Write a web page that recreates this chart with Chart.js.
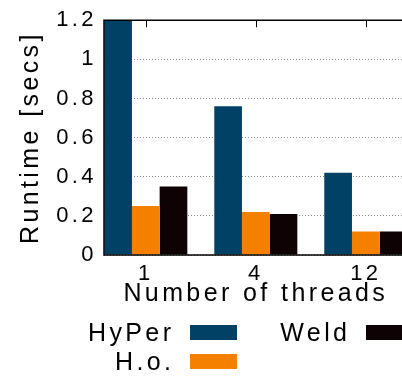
<!DOCTYPE html>
<html><head><meta charset="utf-8">
<script src="https://cdn.jsdelivr.net/npm/chart.js@4/dist/chart.umd.min.js"></script>
<style>
html,body{margin:0;padding:0;background:#fff;overflow:hidden}
#wrap{width:402px;height:377px;overflow:hidden;position:relative;background:#fff}
canvas{display:block}
</style></head><body>
<div id="wrap"><canvas id="c" width="412" height="377"></canvas></div>
<script>
const categories = ['1', '4', '12'];
const seriesNames = ['HyPer', 'H.o.', 'Weld'];
const hyperValues = [1.2, 0.76, 0.42];
const hoValues = [0.25, 0.22, 0.12];
const weldValues = [0.35, 0.21, 0.12];
const yTickValues = [0, 0.2, 0.4, 0.6, 0.8, 1, 1.2];
const yTickLabels = ['0', '0.2', '0.4', '0.6', '0.8', '1', '1.2'];
const xTitle = 'Number of threads';
const yTitle = 'Runtime [secs]';
const colors = ['#004165', '#f58000', '#0e0204'];

const FONT = "'Liberation Sans', Arial, Helvetica, sans-serif";
const SPACING = '3.4px';
const valueSets = [hyperValues, hoValues, weldValues];
function toPoints(vals) { return vals.map((v, i) => ({ x: i, y: v })); }

const spacingPlugin = {
  id: 'spacing',
  beforeUpdate(chart) { chart.ctx.letterSpacing = SPACING; },
  beforeLayout(chart) { chart.ctx.letterSpacing = SPACING; },
  beforeDraw(chart) { chart.ctx.letterSpacing = SPACING; }
};

const framePlugin = {
  id: 'frame',
  afterDatasetsDraw(chart) {
    const { ctx, chartArea: a, scales: { x } } = chart;
    ctx.save();
    ctx.strokeStyle = '#000';
    ctx.lineWidth = 1.5;
    ctx.beginPath();
    ctx.moveTo(a.right + 10, a.top);
    ctx.lineTo(a.left, a.top);
    ctx.lineTo(a.left, a.bottom);
    ctx.lineTo(a.right + 10, a.bottom);
    ctx.stroke();
    ctx.lineWidth = 1;
    x.ticks.forEach(t => {
      const px = Math.round(x.getPixelForValue(t.value)) + 0.5;
      ctx.beginPath();
      ctx.moveTo(px, a.top);
      ctx.lineTo(px, a.top + 7);
      ctx.stroke();
    });
    ctx.restore();
  }
};

const legendPlugin = {
  id: 'keybox',
  afterDraw(chart) {
    const ctx = chart.ctx;
    ctx.save();
    ctx.letterSpacing = SPACING;
    ctx.font = '25px ' + FONT;
    ctx.textAlign = 'right';
    ctx.textBaseline = 'middle';
    chart.data.datasets.forEach((ds, i) => {
      const col = Math.floor(i / 2), row = i % 2;
      const sx = 190 + 176 * col, sy = 325 + 29 * row;
      ctx.fillStyle = ds.backgroundColor;
      ctx.fillRect(sx, sy, 47, 15);
      ctx.fillStyle = '#000';
      ctx.fillText(ds.label, sx - 19 + 3.4, sy + 9);
    });
    ctx.restore();
  }
};

new Chart(document.getElementById('c'), {
  type: 'bar',
  data: {
    datasets: seriesNames.map((n, i) => ({
      label: n,
      data: toPoints(valueSets[i]),
      backgroundColor: colors[i],
      borderWidth: 0
    }))
  },
  options: {
    responsive: false,
    animation: false,
    devicePixelRatio: 1,
    categoryPercentage: 0.755,
    barPercentage: 1,
    layout: { padding: { top: 16, right: 4.4, bottom: 67, left: 0 } },
    plugins: { legend: { display: false }, tooltip: { enabled: false } },
    scales: {
      x: {
        type: 'linear', min: -0.38, max: 2.38, offset: false,
        afterBuildTicks(s) { s.ticks = categories.map((_, i) => ({ value: i })); },
        afterFit(s) { s.height = 55; },
        grid: { display: false, drawTicks: false, offset: false },
        border: { display: false },
        ticks: {
          font: { family: FONT, size: 22 }, color: '#000', padding: 6,
          maxRotation: 0, autoSkip: false,
          callback: (v, i) => categories[i]
        },
        title: {
          display: true, text: xTitle, color: '#000',
          font: { family: FONT, size: 25, lineHeight: 1 },
          padding: { top: 0, bottom: 3 }
        }
      },
      y: {
        min: 0, max: 1.2,
        afterBuildTicks(s) { s.ticks = yTickValues.map(v => ({ value: v })); },
        afterFit(s) { s.width = 104; },
        grid: { color: '#8a8a8a', lineWidth: 1, drawTicks: false },
        border: { display: false, dash: [1, 2] },
        ticks: {
          font: { family: FONT, size: 22 }, color: '#000', padding: 7,
          callback: (v, i) => yTickLabels[i]
        },
        title: {
          display: true, text: yTitle, color: '#000',
          font: { family: FONT, size: 25, lineHeight: 1 },
          padding: { top: 19, bottom: 0 }
        }
      }
    }
  },
  plugins: [spacingPlugin, framePlugin, legendPlugin]
});
</script>
</body></html>
